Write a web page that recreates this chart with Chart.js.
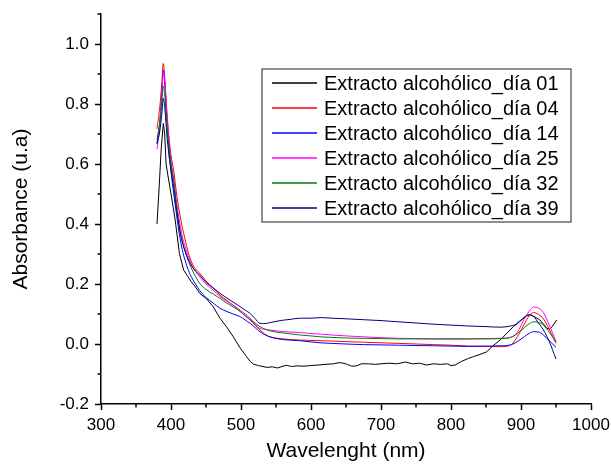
<!DOCTYPE html>
<html>
<head>
<meta charset="utf-8">
<script src="https://cdn.jsdelivr.net/npm/chart.js@4/dist/chart.umd.min.js"></script>
<style>
  body { margin: 0; background: #fff; }
  #wrap { width: 611px; height: 464px; }
</style>
</head>
<body>
<div id="wrap"><canvas id="spectra" width="611" height="464"></canvas></div>
<script>
// wavelengths (nm) shared by days 04..39
var wavelength = [380, 384, 387, 389, 391, 394, 397, 400, 404, 408, 412, 416, 420, 425, 430, 435, 441, 450, 460, 470,
  480, 490, 499, 506, 513, 520, 527, 534, 541, 556, 570, 584, 600, 613, 630, 650, 675, 700, 725, 750,
  775, 800, 825, 850, 870, 885, 895, 905, 912, 918, 925, 932, 940, 950];

var dia04 = [0.717, 0.79, 0.875, 0.935, 0.89, 0.78, 0.69, 0.63, 0.575, 0.50, 0.44, 0.39, 0.35, 0.302, 0.27, 0.25, 0.236, 0.21, 0.188, 0.163,
  0.145, 0.127, 0.108, 0.094, 0.08, 0.063, 0.047, 0.033, 0.024, 0.018, 0.015, 0.013, 0.012, 0.011, 0.01, 0.008, 0.006, 0.004, 0.002, 0.0,
  -0.002, -0.004, -0.007, -0.008, -0.009, -0.004, 0.025, 0.068, 0.095, 0.105, 0.098, 0.084, 0.05, 0.002];

var dia14 = [0.669, 0.74, 0.84, 0.913, 0.87, 0.75, 0.65, 0.575, 0.50, 0.43, 0.365, 0.315, 0.28, 0.245, 0.22, 0.2, 0.178, 0.155, 0.137, 0.119,
  0.108, 0.099, 0.091, 0.08, 0.069, 0.055, 0.041, 0.031, 0.024, 0.016, 0.013, 0.011, 0.007, 0.004, 0.002, 0.0, -0.002, -0.003, -0.004, -0.005,
  -0.006, -0.007, -0.008, -0.007, -0.006, -0.003, 0.008, 0.025, 0.036, 0.041, 0.04, 0.03, 0.012, -0.011];

var dia25 = [0.649, 0.73, 0.83, 0.91, 0.88, 0.77, 0.68, 0.61, 0.55, 0.47, 0.41, 0.36, 0.325, 0.29, 0.262, 0.242, 0.224, 0.2, 0.18, 0.158,
  0.142, 0.127, 0.113, 0.1, 0.086, 0.068, 0.052, 0.049, 0.047, 0.042, 0.04, 0.038, 0.035, 0.033, 0.03, 0.027, 0.024, 0.021, 0.019, 0.018,
  0.017, 0.017, 0.017, 0.018, 0.019, 0.022, 0.04, 0.085, 0.11, 0.123, 0.12, 0.105, 0.065, 0.008];

var dia32 = [0.682, 0.74, 0.81, 0.86, 0.83, 0.74, 0.66, 0.6, 0.54, 0.46, 0.39, 0.345, 0.31, 0.275, 0.248, 0.225, 0.202, 0.182, 0.167, 0.152,
  0.136, 0.122, 0.108, 0.095, 0.082, 0.07, 0.058, 0.05, 0.044, 0.038, 0.034, 0.03, 0.027, 0.024, 0.022, 0.02, 0.019, 0.018, 0.017, 0.017,
  0.017, 0.017, 0.017, 0.017, 0.018, 0.022, 0.035, 0.055, 0.068, 0.074, 0.072, 0.063, 0.04, 0.008];

var dia39 = [0.667, 0.71, 0.77, 0.819, 0.79, 0.70, 0.63, 0.58, 0.52, 0.445, 0.385, 0.34, 0.31, 0.28, 0.258, 0.243, 0.23, 0.205, 0.187, 0.169,
  0.153, 0.138, 0.124, 0.113, 0.102, 0.085, 0.069, 0.068, 0.071, 0.078, 0.082, 0.086, 0.086, 0.088, 0.086, 0.084, 0.081, 0.078, 0.074, 0.07,
  0.066, 0.063, 0.06, 0.058, 0.056, 0.06, 0.068, 0.09, 0.098, 0.092, 0.07, 0.047, 0.01, -0.05];

// day 01 is noisier, read on its own wavelengths
var wlDia01 = [380, 383, 386, 389, 391, 393, 395, 400, 406, 412, 418, 424, 429, 435, 441, 451, 460, 470, 480, 489,
  499, 508, 513, 518, 525, 537, 545, 552, 560, 565, 572, 580, 590, 599, 610, 620, 632, 640, 646, 652,
  658, 665, 672, 682, 692, 700, 712, 722, 727, 735, 745, 755, 765, 775, 785, 795, 800, 806, 815, 825,
  832, 840, 851, 860, 870, 880, 889, 900, 908, 913, 920, 927, 933, 937, 941, 944, 948, 951];
var dia01 = [0.40, 0.52, 0.65, 0.735, 0.70, 0.60, 0.57, 0.50, 0.413, 0.302, 0.247, 0.225, 0.207, 0.19, 0.169, 0.15, 0.125, 0.086, 0.055, 0.024,
  -0.014, -0.042, -0.058, -0.067, -0.072, -0.078, -0.076, -0.08, -0.074, -0.071, -0.075, -0.073, -0.074, -0.072, -0.07, -0.068, -0.066, -0.062, -0.064, -0.068,
  -0.074, -0.073, -0.066, -0.066, -0.068, -0.066, -0.064, -0.066, -0.064, -0.06, -0.066, -0.064, -0.07, -0.066, -0.068, -0.066, -0.072, -0.07, -0.058, -0.048,
  -0.042, -0.036, -0.026, -0.006, 0.013, 0.036, 0.058, 0.08, 0.094, 0.097, 0.09, 0.08, 0.064, 0.052, 0.05, 0.056, 0.07, 0.08];

var labels = ["Extracto alcohólico_día 01", "Extracto alcohólico_día 04", "Extracto alcohólico_día 14",
  "Extracto alcohólico_día 25", "Extracto alcohólico_día 32", "Extracto alcohólico_día 39"];
var colors = ["#000000", "#ff0000", "#0000ff", "#ff00ff", "#008000", "#000080"];

function pts(xs, ys) {
  var out = [];
  for (var i = 0; i < xs.length; i++) out.push({x: xs[i], y: ys[i]});
  return out;
}

var series = [pts(wlDia01, dia01), pts(wavelength, dia04), pts(wavelength, dia14),
  pts(wavelength, dia25), pts(wavelength, dia32), pts(wavelength, dia39)];

var datasets = [];
for (var i = 0; i < series.length; i++) {
  datasets.push({
    label: labels[i],
    data: series[i],
    borderColor: colors[i],
    borderWidth: 1,
    pointRadius: 0,
    fill: false,
    cubicInterpolationMode: i === 0 ? 'default' : 'monotone',
    tension: i === 0 ? 0 : 0.4,
    order: series.length - i
  });
}

Chart.defaults.font.family = 'Arial, "Liberation Sans", sans-serif';
Chart.defaults.font.size = 17;
Chart.defaults.color = '#000';

function isMajorY(v) { return Math.round(v * 10) % 2 === 0; }
function isMajorX(v) { return Math.round(v) % 100 === 0; }

// short minor ticks + boxed legend
var extras = {
  id: 'extras',
  afterDraw: function (chart) {
    var c = chart.ctx;
    var xs = chart.scales.x, ys = chart.scales.y;
    c.save();
    c.strokeStyle = '#000';
    c.lineWidth = 1.5;
    c.beginPath();
    xs.ticks.forEach(function (t) {
      if (!isMajorX(t.value)) {
        var px = xs.getPixelForValue(t.value);
        c.moveTo(px, xs.top); c.lineTo(px, xs.top + 3.5);
      }
    });
    ys.ticks.forEach(function (t) {
      if (!isMajorY(t.value)) {
        var py = ys.getPixelForValue(t.value);
        c.moveTo(ys.right, py); c.lineTo(ys.right - 3.5, py);
      }
    });
    c.stroke();

    // legend
    var bx = 262, by = 69, bw = 309, bh = 153;
    c.fillStyle = '#fff';
    c.fillRect(bx, by, bw, bh);
    c.strokeStyle = '#444';
    c.lineWidth = 1.2;
    c.strokeRect(bx, by, bw, bh);
    c.font = '20px Arial, "Liberation Sans", sans-serif';
    c.textBaseline = 'middle';
    for (var k = 0; k < labels.length; k++) {
      var ry = 83 + k * 25;
      c.strokeStyle = colors[k];
      c.lineWidth = 1.3;
      c.beginPath();
      c.moveTo(272, ry); c.lineTo(317, ry);
      c.stroke();
      c.fillStyle = '#000';
      c.fillText(labels[k], 324, ry + 1.5);
    }
    c.restore();
  }
};

var ctx = document.getElementById('spectra');
var spectraChart = new Chart(ctx, {
  type: 'line',
  data: { datasets: datasets },
  plugins: [extras],
  options: {
    responsive: false,
    animation: false,
    layout: { padding: { top: 14, right: 20, left: 0, bottom: 0 } },
    plugins: {
      legend: { display: false },
      tooltip: { enabled: false }
    },
    scales: {
      x: {
        type: 'linear',
        min: 300,
        max: 1000,
        afterFit: function (s) { s.height = 60; s.paddingLeft = 0; s.paddingRight = 0; },
        border: { display: true, color: '#000', width: 1.5 },
        grid: {
          drawOnChartArea: false,
          drawTicks: true,
          tickLength: 6,
          tickWidth: 1.5,
          tickColor: function (c) { return c.tick && isMajorX(c.tick.value) ? '#000' : 'rgba(0,0,0,0)'; }
        },
        ticks: {
          stepSize: 50,
          autoSkip: false,
          maxRotation: 0,
          padding: 5,
          callback: function (v) { return isMajorX(v) ? String(v) : ''; }
        },
        title: {
          display: true,
          text: 'Wavelenght (nm)',
          font: { size: 21 },
          padding: { top: 0, bottom: 0 }
        }
      },
      y: {
        min: -0.2,
        max: 1.1,
        afterFit: function (s) { s.width = 101; s.paddingTop = 0; s.paddingBottom = 0; },
        border: { display: true, color: '#000', width: 1.5 },
        grid: {
          drawOnChartArea: false,
          drawTicks: true,
          tickLength: 6,
          tickWidth: 1.5,
          tickColor: function (c) { return c.tick && isMajorY(c.tick.value) ? '#000' : 'rgba(0,0,0,0)'; }
        },
        ticks: {
          stepSize: 0.1,
          autoSkip: false,
          padding: 6,
          callback: function (v) { return isMajorY(v) ? v.toFixed(1) : ''; }
        },
        title: {
          display: true,
          text: 'Absorbance (u.a)',
          font: { size: 21 },
          padding: { top: 9, bottom: 0 }
        }
      }
    }
  }
});
</script>
</body>
</html>
